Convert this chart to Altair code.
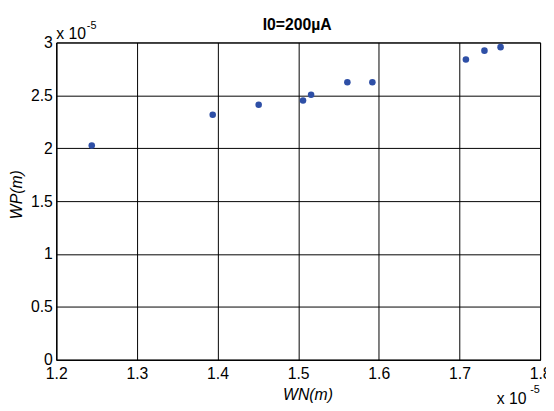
import altair as alt
import pandas as pd

# Values in units of 1e-5 m (as shown by the axis multipliers)
wn = [1.244, 1.394, 1.451, 1.506, 1.516, 1.561, 1.592, 1.708, 1.731, 1.751]
wp = [2.025, 2.316, 2.412, 2.452, 2.506, 2.624, 2.624, 2.840, 2.923, 2.956]
x_ticks = [1.2, 1.3, 1.4, 1.5, 1.6, 1.7, 1.8]
y_ticks = [0, 0.5, 1, 1.5, 2, 2.5, 3]
title_text = "I0=200µA"
x_title = "WN(m)"
y_title = "WP(m)"
mult_text = "x 10"
mult_exp = "-5"

FONT = "Liberation Sans"
W, H = 491, 322

df = pd.DataFrame({"WN": wn, "WP": wp})

common_axis = dict(
    grid=True, gridColor="black", gridOpacity=1, gridWidth=1,
    domainColor="black", domainWidth=1, ticks=True, tickSize=0,
    labelFont=FONT, labelFontSize=16, labelColor="black",
    labelFlush=False, labelOverlap=False,
    titleFont=FONT, titleFontSize=16, titleFontStyle="italic",
    titleFontWeight="normal", titleColor="black",
)

points = alt.Chart(df).mark_circle(size=44, color="#2E4FA6", opacity=1).encode(
    x=alt.X("WN:Q",
            scale=alt.Scale(domain=[1.2, 1.8], nice=False, zero=False),
            axis=alt.Axis(values=x_ticks, format=".1f", title=x_title,
                          labelPadding=6, titleX=255, titleY=40,
                          titleAlign="center", titleBaseline="alphabetic",
                          **common_axis)),
    y=alt.Y("WP:Q",
            scale=alt.Scale(domain=[0, 3], nice=False, zero=False),
            axis=alt.Axis(values=y_ticks, format="~g", title=y_title,
                          labelPadding=4, titleX=-35, titleY=154,
                          titleAngle=270, titleAlign="center",
                          titleBaseline="alphabetic",
                          **common_axis)),
)


def txt(s, x, y, size=16, weight="normal", align="left"):
    return alt.Chart(pd.DataFrame({"t": [s]})).mark_text(
        align=align, baseline="alphabetic", font=FONT, fontSize=size,
        fontWeight=weight, color="black"
    ).encode(x=alt.value(x), y=alt.value(y), text="t:N")


layers = [
    points,
    txt(title_text, 244.5, -13, size=16, weight="bold", align="center"),
    txt(mult_text, 0, -4),
    txt(mult_exp, 31, -14, size=11),
    txt(mult_text, 447, 367),
    txt(mult_exp, 481, 356, size=11),
]

chart = alt.layer(*layers).properties(
    width=W, height=H,
    autosize=alt.AutoSizeParams(type="none"),
    padding={"left": 49, "top": 32, "right": 6, "bottom": 49},
    background="white",
).configure_view(stroke="black", strokeWidth=1)

chart.save("out.html", embed_options={"renderer": "svg", "actions": False})
